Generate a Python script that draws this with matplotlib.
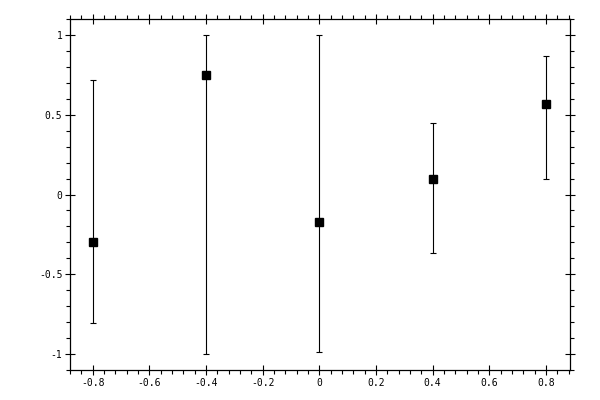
import matplotlib
matplotlib.use("Agg")
import matplotlib.pyplot as plt
from matplotlib.ticker import MultipleLocator, FuncFormatter

x = [-0.8, -0.4, 0.0, 0.4, 0.8]
y = [-0.3, 0.75, -0.175, 0.1, 0.57]
upper = [0.72, 1.0, 1.0, 0.45, 0.87]
lower = [-0.805, -1.0, -0.985, -0.365, 0.1]

yerr = [[yi - lo for yi, lo in zip(y, lower)], [up - yi for yi, up in zip(y, upper)]]

fig = plt.figure(figsize=(6, 4), dpi=100)
ax = fig.add_axes([70/600, 1-370/400, 500/600, 351/400])

ax.errorbar(x, y, yerr=yerr, fmt='s', color='black', ecolor='black',
            markersize=5.5, elinewidth=0.8, capsize=2.5, capthick=0.8)

ax.set_xlim(-0.88, 0.885)
ax.set_ylim(-1.1, 1.1)

ax.xaxis.set_major_locator(MultipleLocator(0.2))
ax.xaxis.set_minor_locator(MultipleLocator(0.04))
ax.yaxis.set_major_locator(MultipleLocator(0.5))
ax.yaxis.set_minor_locator(MultipleLocator(0.1))

def fmt(v, pos):
    if abs(v) < 1e-9:
        return '0'
    s = ('%.1f' % v)
    if s.endswith('.0'):
        s = s[:-2]
    return s

ax.xaxis.set_major_formatter(FuncFormatter(fmt))
ax.yaxis.set_major_formatter(FuncFormatter(fmt))

for sp in ax.spines.values():
    sp.set_linewidth(0.9)

ax.tick_params(which='major', direction='inout', length=7, width=0.8,
               top=True, right=True, labelsize=7, pad=2)
ax.tick_params(which='minor', direction='out', length=3, width=0.8,
               top=True, right=True)
for lab in ax.get_xticklabels() + ax.get_yticklabels():
    lab.set_family('DejaVu Sans Mono')

fig.savefig('out.png', dpi=100)
